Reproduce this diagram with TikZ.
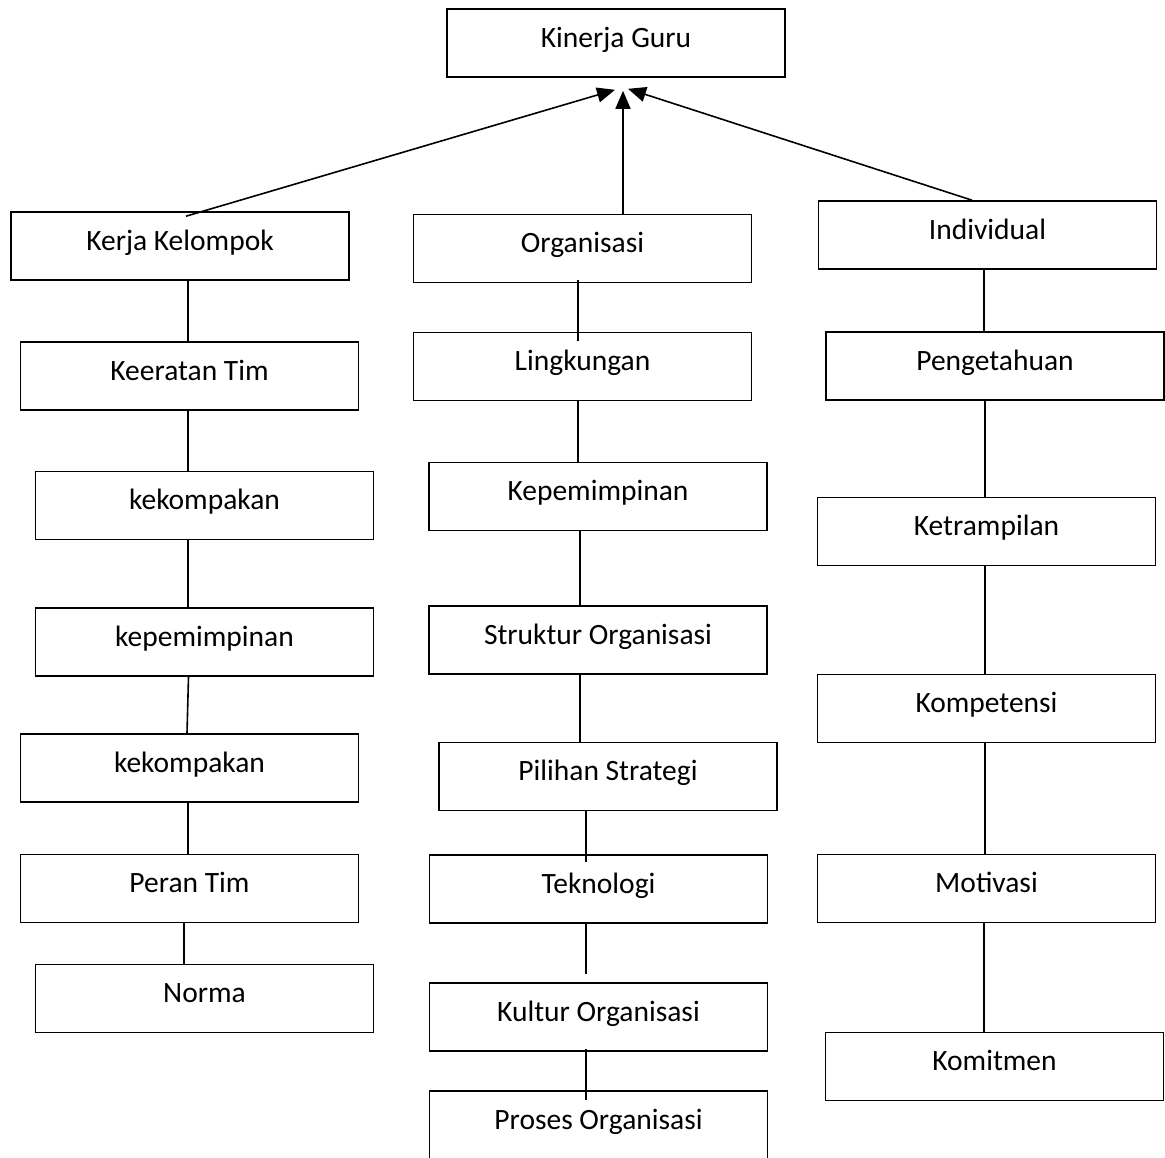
\documentclass[tikz,border=0pt]{standalone}
\usepackage{fontspec}
\setmainfont{Carlito}
\usetikzlibrary{arrows.meta}
\begin{document}
\begin{tikzpicture}[x=1pt,y=-1pt,
  box/.style={draw,line width=1.6pt,minimum width=338pt,minimum height=68pt,inner sep=0pt,
    text height=38pt,text depth=30pt,font=\fontsize{29.5}{32}\selectfont},
  conn/.style={line width=1.6pt},
  arr/.style={line width=1.6pt,-{Triangle[length=18pt,width=15pt]}}]
\useasboundingbox[fill=white] (0,0) rectangle (1165,1157);
% top
\node[box] (kg) at (616,43) {Kinerja Guru};
% left column
\node[box] (kk) at (180,246) {Kerja Kelompok};
\node[box] (kt) at (189.5,376) {Keeratan Tim};
\node[box] (kek1) at (204.5,505.5) {kekompakan};
\node[box] (kep2) at (204.5,642) {kepemimpinan};
\node[box] (kek2) at (189.5,768) {kekompakan};
\node[box] (pt) at (189.5,888.5) {Peran Tim};
\node[box] (nor) at (204.5,998.5) {Norma};
% middle column
\node[box] (org) at (582.5,248.5) {Organisasi};
\node[box] (lin) at (582.5,366.5) {Lingkungan};
\node[box] (kep) at (598,496.5) {Kepemimpinan};
\node[box] (so) at (598,640) {Struktur Organisasi};
\node[box] (ps) at (608,776.5) {Pilihan Strategi};
\node[box] (tek) at (598.5,889) {Teknologi};
\node[box] (ko) at (598.5,1017) {Kultur Organisasi};
\node[box] (po) at (598.5,1125) {Proses Organisasi};
% right column
\node[box] (ind) at (987.5,235) {Individual};
\node[box] (pen) at (995,366) {Pengetahuan};
\node[box] (ket) at (986.5,531.5) {Ketrampilan};
\node[box] (kom) at (986.5,708.5) {Kompetensi};
\node[box] (mot) at (986.5,888.5) {Motivasi};
\node[box] (kmt) at (994.5,1066.5) {Komitmen};
% arrows to top
\draw[arr] ([xshift=6pt,yshift=-5pt]kk.north) -- ([xshift=-1pt,yshift=-12pt]kg.south);
\draw[arr] ([xshift=40.5pt]org.north) -- ([xshift=7pt,yshift=-13pt]kg.south);
\draw[arr] ([xshift=-15.5pt]ind.north) -- ([xshift=12pt,yshift=-11pt]kg.south);
% left connectors
\draw[conn] ([xshift=8pt]kk.south) -- ([xshift=-1.5pt]kt.north);
\draw[conn] ([xshift=-1.5pt]kt.south) -- ([xshift=-16.5pt]kek1.north);
\draw[conn] ([xshift=-16.5pt]kek1.south) -- ([xshift=-16.5pt]kep2.north);
\draw[conn] ([xshift=-16pt]kep2.south) -- ([xshift=-2.5pt]kek2.north);
\draw[conn] ([xshift=-1.5pt]kek2.south) -- ([xshift=-1.5pt]pt.north);
\draw[conn] ([xshift=-5.5pt]pt.south) -- ([xshift=-20.5pt]nor.north);
% middle connectors
\draw[conn] ([xshift=-4.5pt,yshift=3pt]org.south) -- ([xshift=-4.5pt,yshift=-9pt]lin.north);
\draw[conn] ([xshift=-4.5pt]lin.south) -- ([xshift=-20pt]kep.north);
\draw[conn] ([xshift=-18pt]kep.south) -- ([xshift=-18pt]so.north);
\draw[conn] ([xshift=-18pt]so.south) -- ([xshift=-28pt]ps.north);
\draw[conn] ([xshift=-22pt]ps.south) -- ([xshift=-12.5pt,yshift=-8pt]tek.north);
\draw[conn] ([xshift=-12.5pt]tek.south) -- ([xshift=-12.5pt,yshift=8pt]ko.north);
\draw[conn] ([xshift=-12.5pt,yshift=3pt]ko.south) -- ([xshift=-12.5pt,yshift=-10pt]po.north);
% right connectors
\draw[conn] ([xshift=-3.5pt]ind.south) -- ([xshift=-11pt]pen.north);
\draw[conn] ([xshift=-10pt]pen.south) -- ([xshift=-1.5pt]ket.north);
\draw[conn] ([xshift=-1.5pt]ket.south) -- ([xshift=-1.5pt]kom.north);
\draw[conn] ([xshift=-1.5pt]kom.south) -- ([xshift=-1.5pt]mot.north);
\draw[conn] ([xshift=-2.5pt]mot.south) -- ([xshift=-10.5pt]kmt.north);
\end{tikzpicture}
\end{document}
